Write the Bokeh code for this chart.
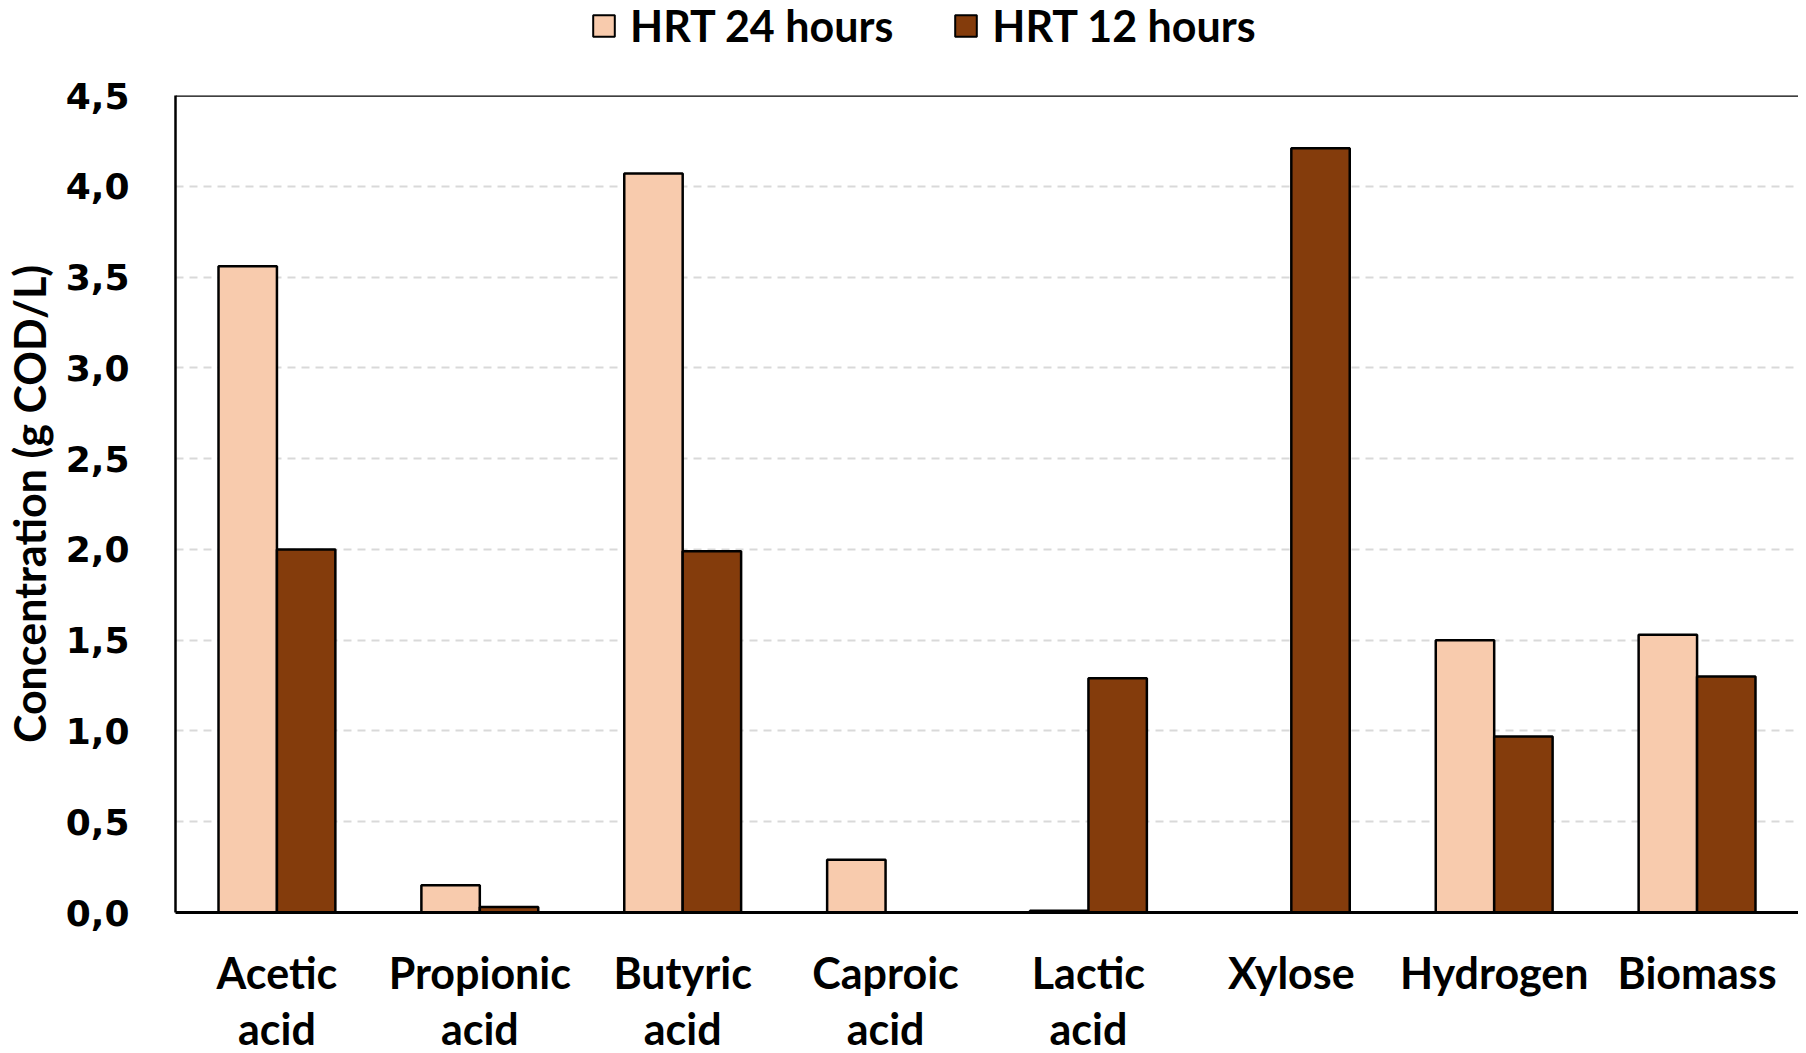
import numpy as np
from bokeh.plotting import figure
from bokeh.layouts import column
from bokeh.models import (ColumnDataSource, FactorRange, Range1d, FixedTicker, Legend, LegendItem, Span)
from bokeh.transform import dodge
from bokeh.embed import file_html
from bokeh.resources import INLINE

categories = ["Acetic\nacid", "Propionic\nacid", "Butyric\nacid", "Caproic\nacid",
              "Lactic\nacid", "Xylose", "Hydrogen", "Biomass"]
hrt24 = [3.56, 0.15, 4.07, 0.29, 0.01, 0.0, 1.50, 1.53]
hrt12 = [2.00, 0.03, 1.99, 0.0, 1.29, 4.21, 0.97, 1.30]
series_names = ["HRT 24 hours", "HRT 12 hours"]
colors = ["#F8CBAD", "#843C0C"]
y_ticks = [0.0, 0.5, 1.0, 1.5, 2.0, 2.5, 3.0, 3.5, 4.0, 4.5]

W = 1798
LEG_H = 60

src = ColumnDataSource(dict(cat=categories, h24=hrt24, h12=hrt12))

p = figure(x_range=FactorRange(*categories), y_range=Range1d(0, 4.5),
           width=W, height=1057 - LEG_H, output_backend="svg", toolbar_location=None,
           min_border_left=164, min_border_right=0, min_border_top=35, min_border_bottom=135)
p.outline_line_color = None
p.background_fill_color = "white"

bw = 0.288
r24 = p.vbar(x=dodge("cat", -bw / 2, range=p.x_range), top="h24", width=bw, source=src,
             fill_color=colors[0], line_color="black", line_width=2.5)
r12 = p.vbar(x=dodge("cat", bw / 2, range=p.x_range), top="h12", width=bw, source=src,
             fill_color=colors[1], line_color="black", line_width=2.5)

p.add_layout(Span(location=4.5, dimension="width", line_color="black", line_width=2.5))

p.xgrid.grid_line_color = None
p.ygrid.grid_line_color = "#D9D9D9"
p.ygrid.grid_line_width = 2
p.ygrid.grid_line_dash = "8 6"

p.yaxis.ticker = FixedTicker(ticks=y_ticks)
p.yaxis.major_label_overrides = {t: f"{t:.1f}".replace(".", ",") for t in y_ticks}
p.yaxis.major_label_text_font = "DejaVu Sans"
p.yaxis.major_label_text_font_style = "bold"
p.yaxis.major_label_text_font_size = "36px"
p.yaxis.major_label_text_color = "black"
p.yaxis.major_label_standoff = 40
p.yaxis.major_tick_line_color = None
p.yaxis.minor_tick_line_color = None
p.yaxis.axis_line_color = "black"
p.yaxis.axis_line_width = 2.5
p.yaxis.axis_label = "Concentration (g COD/L)"
p.yaxis.axis_label_text_font = "Lato"
p.yaxis.axis_label_text_font_style = "bold"
p.yaxis.axis_label_text_font_size = "43px"
p.yaxis.axis_label_text_color = "black"
p.yaxis.axis_label_standoff = 8

p.xaxis.major_label_text_font = "Lato"
p.xaxis.major_label_text_font_style = "bold"
p.xaxis.major_label_text_font_size = "43px"
p.xaxis.major_label_text_color = "black"
p.xaxis.major_label_text_line_height = 1.11
p.xaxis.major_label_standoff = 28
p.xaxis.major_tick_line_color = None
p.xaxis.minor_tick_line_color = None
p.xaxis.axis_line_color = "black"
p.xaxis.axis_line_width = 3

# legend panel: a small figure holding a Legend for invisible (NaN) glyphs with the same styles
lf = figure(width=W, height=LEG_H, output_backend="svg", toolbar_location=None,
            min_border=0, x_range=(0, 1), y_range=(0, 1))
lf.outline_line_color = None
lf.axis.visible = False
lf.grid.visible = False
dummy = ColumnDataSource(dict(x=np.array([0.5]), y=np.array([np.nan])))
l24 = lf.vbar(x="x", top="y", width=0.1, source=dummy, fill_color=colors[0], line_color="black", line_width=2)
l12 = lf.vbar(x="x", top="y", width=0.1, source=dummy, fill_color=colors[1], line_color="black", line_width=2)
legend = Legend(items=[LegendItem(label=series_names[0], renderers=[l24], index=0),
                       LegendItem(label=series_names[1], renderers=[l12], index=0)],
                orientation="horizontal", location=(415, 9))
legend.label_text_font = "Lato"
legend.label_text_font_style = "bold"
legend.label_text_font_size = "43px"
legend.label_text_color = "black"
legend.glyph_width = 27
legend.glyph_height = 27
legend.label_standoff = 13
legend.spacing = 59
legend.padding = 0
legend.margin = 0
legend.border_line_color = None
legend.background_fill_alpha = 0
lf.add_layout(legend, "center")

layout = column(lf, p, spacing=0)
open("out.html", "w").write(file_html(layout, INLINE))
